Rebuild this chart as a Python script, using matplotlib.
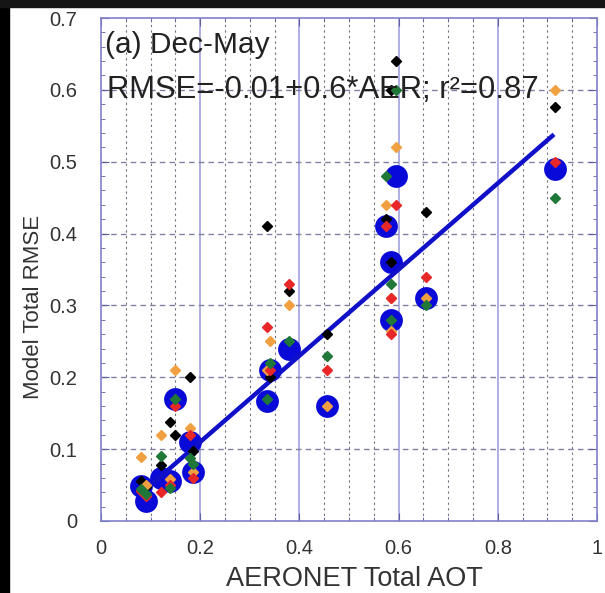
import matplotlib
matplotlib.use("Agg")
import matplotlib.pyplot as plt
import numpy as np
from matplotlib.patches import Rectangle
from matplotlib.ticker import MultipleLocator

plt.rcParams['font.family'] = ['Liberation Sans', 'DejaVu Sans']

# Station AERONET AOT and RMSE values
aot = [0.08, 0.09, 0.12, 0.14, 0.15, 0.18, 0.185, 0.335, 0.34, 0.38, 0.455,
       0.575, 0.585, 0.585, 0.595, 0.655, 0.915]
rmse_ensemble = [0.049, 0.028, 0.06, 0.055, 0.17, 0.11, 0.068, 0.167, 0.21, 0.24, 0.16,
                 0.41, 0.36, 0.28, 0.48, 0.31, 0.49]
rmse_black = [0.056, 0.048, 0.078, 0.138, 0.12, 0.20, 0.098, 0.41, 0.20, 0.32, 0.26,
              0.42, 0.36, 0.60, 0.64, 0.43, 0.576]
rmse_orange = [0.089, 0.05, 0.12, 0.058, 0.21, 0.13, 0.068, 0.21, 0.25, 0.30, 0.16,
               0.44, 0.31, 0.265, 0.52, 0.31, 0.60]
rmse_red = [0.042, 0.035, 0.04, 0.05, 0.16, 0.12, 0.06, 0.27, 0.21, 0.33, 0.21,
            0.41, 0.31, 0.26, 0.44, 0.34, 0.50]
rmse_green = [0.045, 0.038, 0.09, 0.046, 0.17, 0.088, 0.08, 0.17, 0.22, 0.25, 0.23,
              0.48, 0.33, 0.28, 0.60, 0.30, 0.45]
fit_intercept = -0.01
fit_slope = 0.6
fit_x = [0.09, 0.91]
xtick_vals = [0, 0.2, 0.4, 0.6, 0.8, 1]
xtick_labels = ['0', '0.2', '0.4', '0.6', '0.8', '1']
ytick_vals = [0, 0.1, 0.2, 0.3, 0.4, 0.5, 0.6, 0.7]
ytick_labels = ['0', '0.1', '0.2', '0.3', '0.4', '0.5', '0.6', '0.7']

W, H = 605, 593
fig = plt.figure(figsize=(W / 100, H / 100), dpi=100)
fig.patch.set_facecolor('white')
ax = fig.add_axes([101 / W, 1 - 521 / H, (597 - 101) / W, (521 - 18) / H])

# grid
for xv in np.arange(0.05, 1.0, 0.05):
    if abs(xv / 0.2 - round(xv / 0.2)) < 1e-6:
        ax.axvline(xv, color='#a8a8e0', lw=1.3, zorder=0)
    else:
        ax.axvline(xv, color='#707080', lw=0.8, ls=(0, (2, 3)), zorder=0)
for yv in np.arange(0.1, 0.7, 0.1):
    ax.axhline(yv, color='#8080a0', lw=1.0, ls=(0, (4, 3)), zorder=0)

ax.scatter(aot, rmse_ensemble, s=270, color='#0a0ad8', zorder=2, linewidths=0)
fx = np.array(fit_x)
ax.plot(fx, fit_intercept + fit_slope * fx, color='#1010c8', lw=3.2, zorder=3)
for vals, col in [(rmse_black, 'black'), (rmse_orange, '#f0a040'),
                  (rmse_red, '#e82828'), (rmse_green, '#207838')]:
    ax.plot(aot, vals, ls='none', marker='D', ms=5.3, color=col, mec=col, zorder=4)

ax.set_xlim(0, 1)
ax.set_ylim(0, 0.7)
ax.set_xticks(xtick_vals)
ax.set_xticklabels(xtick_labels)
ax.set_yticks(ytick_vals)
ax.set_yticklabels(ytick_labels)
ax.xaxis.set_minor_locator(MultipleLocator(0.05))
ax.yaxis.set_minor_locator(MultipleLocator(0.02))
ax.tick_params(which='both', direction='in', top=True, right=True, color='#6060a0')
ax.tick_params(which='major', length=6, labelsize=14.5, labelcolor='#333333')
ax.tick_params(axis='y', which='major', pad=17)
ax.tick_params(axis='x', which='major', pad=13)
ax.tick_params(which='minor', length=3)
for sp in ax.spines.values():
    sp.set_color('#8080c8')
    sp.set_linewidth(1.2)

ax.set_xlabel('AERONET Total AOT', fontsize=19.5, color='#333333')
ax.xaxis.set_label_coords(0.51, -0.09)
ax.set_ylabel('Model Total RMSE', fontsize=16, color='#333333')
ax.yaxis.set_label_coords(-0.115, 0.425)

ax.text(0.008, 0.662, '(a) Dec-May', fontsize=21.5, color='#222222', va='center', ha='left', zorder=5)
ax.text(0.012, 0.6, 'RMSE=-0.01+0.6*AER; r²=0.87', fontsize=22.3, color='#222222',
        va='center', ha='left', zorder=5)

# dark frame edges of the picture
fig.patches.append(Rectangle((0, 0), 9 / W, 1, transform=fig.transFigure, color='black', zorder=10))
fig.patches.append(Rectangle((0, 1 - 7 / H), 1, 7 / H, transform=fig.transFigure, color='#151515', zorder=10))

fig.savefig('out.png', dpi=100, facecolor='white')
